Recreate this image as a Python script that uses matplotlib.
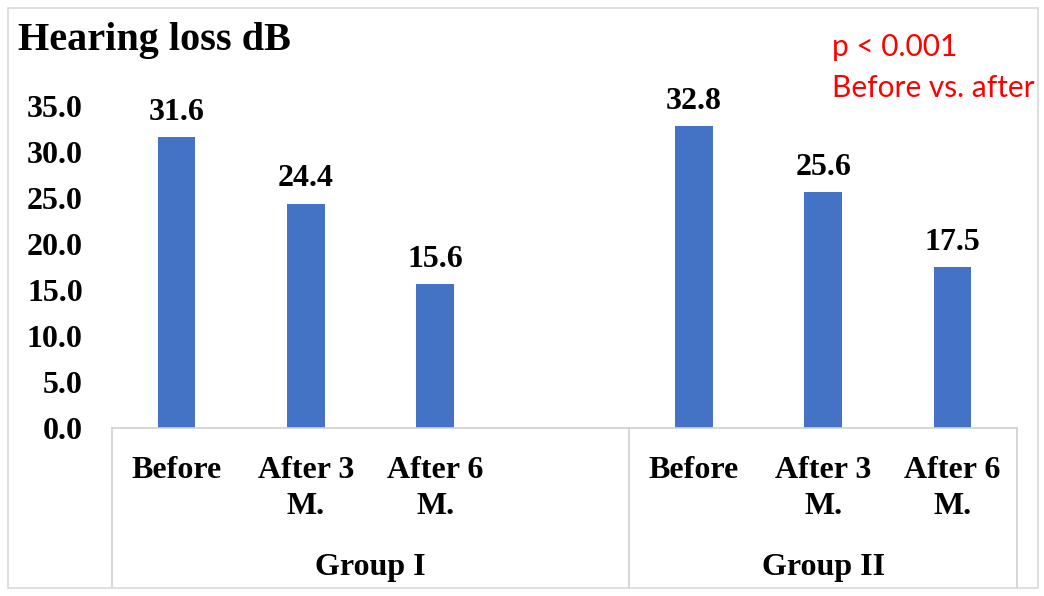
import matplotlib.pyplot as plt
from matplotlib.patches import Rectangle
import numpy as np

# data
groups = ['Group I', 'Group II']
periods = ['Before', 'After 3\nM.', 'After 6\nM.']
group1 = [31.6, 24.4, 15.6]
group2 = [32.8, 25.6, 17.5]
yticks = [0, 5, 10, 15, 20, 25, 30, 35]

W, H = 1044, 596
fig = plt.figure(figsize=(W / 100, H / 100), dpi=100)
serif = 'Liberation Serif'
fs = 23

# plot area in pixel coords (from top-left)
x0, x1, ytop, ybot = 112, 1017, 106, 428
ax = fig.add_axes([x0 / W, 1 - ybot / H, (x1 - x0) / W, (ybot - ytop) / H])

pos1 = np.arange(3)          # slots 0,1,2 (slot 3 empty)
pos2 = np.arange(3) + 4      # slots 4,5,6
blue = '#4472C4'
for pos, vals in [(pos1, group1), (pos2, group2)]:
    ax.bar(pos, vals, width=0.29, color=blue, zorder=2)
    for p, v in zip(pos, vals):
        ax.text(p, v + 1.1, f'{v:.1f}', ha='center', va='bottom',
                fontsize=fs, fontweight='bold', family=serif, clip_on=False)

ax.set_xlim(-0.5, 6.5)
ax.set_ylim(0, 35)
ax.set_yticks(yticks)
ax.set_yticklabels([f'{t:.1f}' for t in yticks], fontsize=fs,
                   fontweight='bold', family=serif)
ax.tick_params(axis='y', length=0, pad=21)
ax.set_xticks([])
for s in ['top', 'right', 'left']:
    ax.spines[s].set_visible(False)
ax.spines['bottom'].set_color('#d0d0d0')
ax.spines['bottom'].set_linewidth(1.2)

# multi-level category axis
tr = ax.get_xaxis_transform()
span = ybot - ytop
depth = -(587 - ybot) / span
for xl in [-0.5, 3.5, 6.5]:
    ax.plot([xl, xl], [0, depth], transform=tr, color='#d0d0d0', lw=1.2,
            clip_on=False)
for pos in [pos1, pos2]:
    for p, lab in zip(pos, periods):
        ax.text(p, -(456 - ybot) / span, lab, transform=tr,
                ha='center', va='top', fontsize=fs, fontweight='bold',
                family=serif, linespacing=1.3)
for gx, g in zip([1.5, 5.0], groups):
    ax.text(gx, -(567 - ybot) / span, g, transform=tr,
            ha='center', va='center', fontsize=fs, fontweight='bold',
            family=serif)

# title and annotation
fig.text(18 / W, 1 - 50 / H, 'Hearing loss dB', fontsize=29,
         fontweight='bold', family=serif, va='baseline')
fig.text(832 / W, 1 - 47 / H, 'p < 0.001', fontsize=21.5, color='#FF0000',
         family='Lato', va='center')
fig.text(832 / W, 1 - 88 / H, 'Before vs. after', fontsize=21.5,
         color='#FF0000', family='Lato', va='center')

# chart border
fig.patches.append(Rectangle((8 / W, 8 / H), (1038 - 8) / W, (588 - 8) / H,
                             transform=fig.transFigure, fill=False,
                             edgecolor='#d9d9d9', lw=1.2))

fig.savefig('out.png', dpi=100)
